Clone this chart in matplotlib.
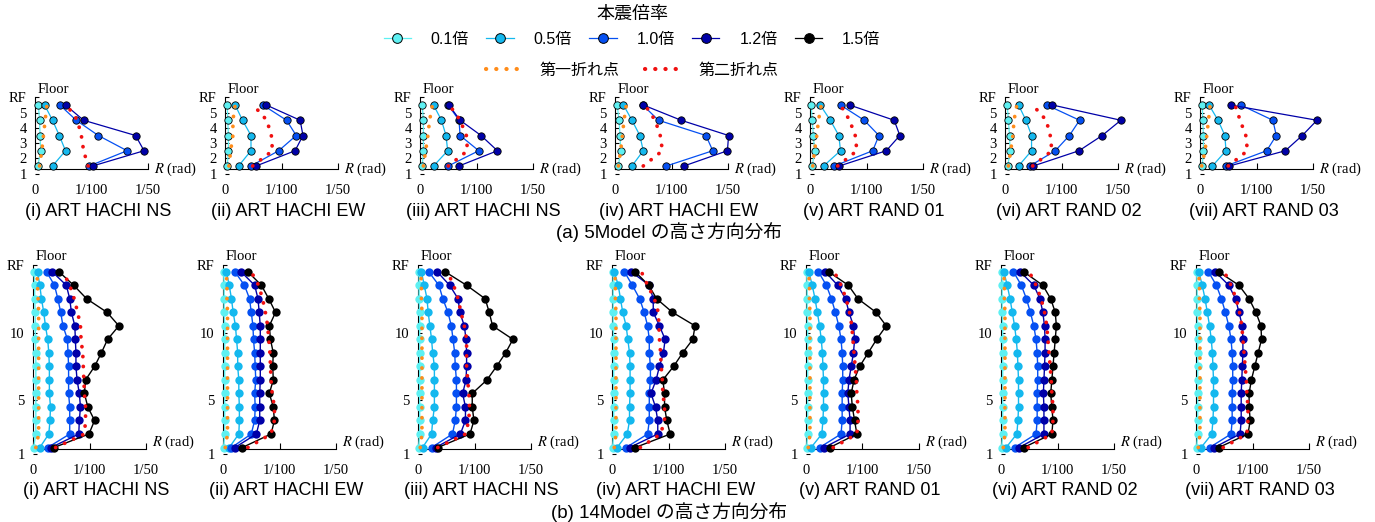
import numpy as np
import matplotlib
matplotlib.use("Agg")
import matplotlib.pyplot as plt
from matplotlib.lines import Line2D
from matplotlib.font_manager import FontProperties

plt.rcParams["mathtext.fontset"] = "stix"

SERIF = ["Liberation Serif", "DejaVu Serif"]
SANS = ["Liberation Sans", "Noto Sans CJK JP", "DejaVu Sans"]

# ---------------------------------------------------------------- labels
scale_labels = ["0.1倍", "0.5倍", "1.0倍", "1.2倍", "1.5倍"]
break_labels = ["第一折れ点", "第二折れ点"]
legend_title = "本震倍率"
wave_titles = ["(i) ART HACHI NS", "(ii) ART HACHI EW", "(iii) ART HACHI NS",
               "(iv) ART HACHI EW", "(v) ART RAND 01", "(vi) ART RAND 02",
               "(vii) ART RAND 03"]
row_titles = ["(a) 5Model の高さ方向分布", "(b) 14Model の高さ方向分布"]
x_ticks = [0.0, 0.01, 0.02]
x_ticklabels = ["0", "1/100", "1/50"]
floor_ticks_5 = [1, 2, 3, 4, 5, 6]
floor_labels_5 = ["1", "2", "3", "4", "5", "RF"]
floor_ticks_14 = [1, 5, 10, 15]
floor_labels_14 = ["1", "5", "10", "RF"]

# story levels (mid-height of each story)
stories_5 = [1.5, 2.5, 3.5, 4.5, 5.5]
stories_14 = [1.5, 2.5, 3.5, 4.5, 5.5, 6.5, 7.5, 8.5, 9.5, 10.5, 11.5, 12.5, 13.5, 14.5]

# ---------------------------------------------------------------- 5Model drift (x 1/1000 rad), bottom story first
m5_x01 = [[0.5, 1.0, 0.9, 0.8, 0.6], [0.4, 0.6, 0.6, 0.5, 0.4], [0.4, 0.6, 0.6, 0.6, 0.4],
          [0.6, 1.0, 0.9, 0.7, 0.4], [0.4, 0.8, 0.6, 0.4, 0.2], [0.5, 0.9, 0.8, 0.6, 0.4],
          [0.4, 0.6, 0.6, 0.5, 0.4]]
m5_x05 = [[3.1, 5.4, 4.3, 3.1, 1.7], [2.4, 4.6, 4.6, 3.1, 1.8], [2.4, 4.9, 4.6, 3.8, 2.4],
          [3.0, 5.0, 4.4, 3.0, 1.5], [2.4, 5.4, 5.1, 3.6, 1.8], [2.4, 4.7, 4.7, 3.7, 2.4],
          [2.2, 4.6, 4.4, 3.2, 1.6]]
m5_x10 = [[9.6, 16.3, 11.2, 7.3, 4.4], [4.6, 9.5, 12.6, 10.9, 6.7], [5.0, 10.4, 7.1, 6.9, 5.0],
          [9.1, 17.3, 16.1, 7.7, 4.9], [4.3, 11.1, 12.2, 9.6, 5.4], [4.4, 8.9, 11.4, 13.2, 7.4],
          [4.6, 11.8, 13.5, 12.9, 7.2]]
m5_x12 = [[10.2, 19.3, 17.8, 8.6, 5.4], [5.5, 12.4, 13.8, 13.3, 7.3], [6.9, 13.7, 10.8, 7.1, 5.1],
          [12.2, 19.9, 20.1, 11.7, 5.0], [5.2, 13.5, 15.9, 14.9, 7.0], [5.0, 13.1, 17.2, 20.5, 8.4],
          [5.2, 15.1, 18.1, 20.7, 5.4]]
m5_bp1 = [[0.8, 1.2, 1.5, 1.8, 2.1], [0.7, 1.0, 1.4, 1.4, 1.8], [0.6, 1.0, 1.4, 1.7, 2.2],
          [0.6, 1.0, 1.3, 1.6, 2.0], [0.5, 0.8, 1.2, 1.5, 2.0], [0.6, 1.0, 1.4, 1.6, 2.1],
          [0.3, 0.9, 1.2, 1.5, 1.8]]
m5_bp2 = [[9.4, 8.6, 8.2, 7.5, 5.6], [4.9, 8.4, 8.2, 7.4, 5.0], [5.0, 8.4, 8.2, 7.1, 5.2],
          [5.0, 8.4, 8.0, 7.1, 5.3], [4.9, 8.3, 8.0, 7.0, 5.4], [4.9, 8.3, 8.0, 7.3, 4.9],
          [5.0, 8.4, 8.1, 7.1, 6.2]]

# ---------------------------------------------------------------- 14Model drift (x 1/1000 rad), bottom story first
m14_x01 = [[0.1, 0.5, 0.5, 0.5, 0.5, 0.5, 0.5, 0.5, 0.4, 0.4, 0.4, 0.3, 0.3, 0.2],
           [0.1, 0.3, 0.3, 0.3, 0.3, 0.3, 0.3, 0.3, 0.3, 0.3, 0.2, 0.2, 0.2, 0.1],
           [0.1, 0.3, 0.3, 0.3, 0.3, 0.3, 0.3, 0.3, 0.3, 0.3, 0.3, 0.2, 0.2, 0.2],
           [0.1, 0.3, 0.3, 0.3, 0.3, 0.3, 0.3, 0.3, 0.3, 0.2, 0.2, 0.2, 0.2, 0.2],
           [0.1, 0.3, 0.3, 0.3, 0.3, 0.3, 0.3, 0.3, 0.3, 0.3, 0.2, 0.2, 0.2, 0.1],
           [0.1, 0.3, 0.3, 0.3, 0.3, 0.3, 0.3, 0.3, 0.3, 0.3, 0.2, 0.2, 0.2, 0.1],
           [0.1, 0.3, 0.3, 0.3, 0.3, 0.3, 0.3, 0.3, 0.3, 0.3, 0.2, 0.2, 0.2, 0.1]]
m14_x05 = [[1.2, 2.8, 3.0, 3.1, 2.9, 2.9, 2.9, 2.8, 2.6, 2.2, 1.9, 1.5, 1.2, 0.8],
           [1.1, 2.8, 2.9, 2.9, 2.8, 2.8, 2.6, 2.6, 2.4, 2.2, 1.8, 1.5, 1.1, 0.6],
           [0.8, 2.4, 2.6, 2.9, 2.9, 2.9, 2.9, 2.6, 2.4, 2.1, 1.8, 1.6, 1.1, 0.6],
           [0.9, 2.7, 3.1, 3.1, 3.2, 3.2, 3.2, 3.1, 2.8, 2.5, 1.9, 1.5, 1.1, 0.4],
           [0.9, 2.8, 3.0, 3.1, 3.1, 3.1, 3.0, 2.9, 2.7, 2.4, 2.0, 1.6, 1.1, 0.5],
           [0.9, 2.8, 3.0, 3.1, 3.1, 3.1, 3.0, 2.9, 2.7, 2.4, 2.0, 1.6, 1.1, 0.5],
           [0.9, 2.8, 3.0, 3.1, 3.1, 3.1, 3.0, 2.9, 2.7, 2.4, 2.0, 1.6, 1.1, 0.5]]
m14_x10 = [[2.6, 6.5, 6.5, 6.5, 6.3, 6.3, 6.3, 6.2, 6.1, 5.3, 4.9, 4.4, 3.8, 2.4],
           [1.5, 5.0, 5.6, 5.7, 5.6, 5.8, 5.7, 5.6, 5.4, 5.3, 5.0, 4.7, 3.8, 2.1],
           [2.4, 6.1, 6.6, 6.8, 6.8, 6.8, 6.6, 6.5, 6.2, 5.9, 5.3, 4.4, 3.7, 1.9],
           [2.5, 6.3, 6.6, 6.6, 6.6, 6.8, 6.8, 6.6, 6.6, 6.3, 5.7, 4.9, 3.6, 2.2],
           [2.4, 6.2, 6.4, 6.4, 6.4, 6.5, 6.5, 6.4, 6.2, 5.8, 5.2, 4.5, 3.6, 2.2],
           [2.4, 6.2, 6.4, 6.4, 6.4, 6.5, 6.5, 6.4, 6.2, 5.8, 5.2, 4.5, 3.6, 2.2],
           [2.4, 6.2, 6.4, 6.4, 6.4, 6.5, 6.5, 6.4, 6.2, 5.8, 5.2, 4.5, 3.6, 2.2]]
m14_x12 = [[3.2, 8.1, 8.2, 8.4, 8.2, 7.8, 7.6, 7.6, 7.5, 7.4, 6.8, 6.5, 5.9, 3.4],
           [2.1, 5.9, 6.5, 6.5, 6.5, 6.6, 6.6, 6.6, 6.6, 6.6, 6.4, 6.2, 5.6, 3.2],
           [3.1, 7.5, 8.4, 8.4, 7.9, 8.5, 8.6, 8.6, 8.5, 8.2, 7.4, 7.1, 5.6, 3.4],
           [3.1, 8.1, 8.1, 7.7, 6.9, 7.8, 8.4, 9.1, 9.4, 8.4, 7.3, 7.3, 6.6, 3.4],
           [3.2, 7.8, 7.8, 7.6, 7.4, 7.6, 8.0, 8.4, 8.6, 8.4, 7.6, 7.0, 5.6, 3.4],
           [3.2, 7.6, 7.6, 7.6, 7.5, 7.6, 7.7, 7.8, 7.8, 7.7, 7.4, 6.9, 5.8, 3.4],
           [3.2, 7.8, 8.0, 8.0, 8.0, 8.1, 8.2, 8.3, 8.3, 8.2, 7.6, 7.0, 5.8, 3.4]]
m14_x15 = [[3.7, 9.9, 10.9, 9.7, 9.1, 9.3, 10.9, 12.1, 13.2, 15.2, 13.1, 9.5, 7.2, 4.6],
           [3.4, 8.5, 9.1, 8.9, 8.2, 8.9, 8.8, 8.9, 8.4, 8.2, 9.3, 8.1, 6.8, 4.4],
           [3.5, 9.2, 9.9, 9.6, 9.6, 12.2, 13.9, 15.5, 16.8, 13.2, 12.6, 11.9, 8.6, 4.8],
           [4.1, 10.3, 9.7, 9.3, 9.3, 9.0, 10.9, 12.5, 14.3, 14.7, 10.7, 7.9, 6.5, 4.1],
           [4.2, 9.0, 8.6, 8.2, 8.0, 8.5, 9.5, 11.0, 12.5, 14.2, 12.4, 9.2, 7.5, 4.0],
           [4.0, 9.0, 9.2, 9.0, 8.8, 9.0, 9.2, 9.4, 9.6, 9.8, 9.6, 8.8, 7.4, 4.0],
           [4.0, 9.2, 9.6, 9.4, 9.4, 9.8, 10.4, 11.0, 11.6, 11.5, 10.6, 9.4, 7.6, 4.0]]
m14_bp1 = [[0.5, 1.0, 1.0, 1.0, 1.0, 1.0, 1.0, 1.0, 1.0, 1.0, 1.0, 0.9, 0.8, 0.7],
           [0.4, 0.8, 0.8, 0.8, 0.8, 0.8, 0.8, 0.8, 0.8, 0.8, 0.8, 0.7, 0.7, 0.6],
           [0.4, 0.7, 0.7, 0.7, 0.7, 0.7, 0.7, 0.7, 0.7, 0.7, 0.7, 0.6, 0.6, 0.5],
           [0.4, 0.7, 0.7, 0.7, 0.7, 0.7, 0.7, 0.7, 0.7, 0.7, 0.7, 0.6, 0.6, 0.5],
           [0.4, 0.7, 0.7, 0.7, 0.7, 0.7, 0.7, 0.7, 0.7, 0.7, 0.7, 0.6, 0.6, 0.5],
           [0.4, 0.7, 0.7, 0.7, 0.7, 0.7, 0.7, 0.7, 0.7, 0.7, 0.7, 0.6, 0.6, 0.5],
           [0.4, 0.7, 0.7, 0.7, 0.7, 0.7, 0.7, 0.7, 0.7, 0.7, 0.7, 0.6, 0.6, 0.5]]
m14_bp2 = [[4.0, 9.1, 9.3, 9.3, 9.1, 9.0, 8.9, 8.8, 8.5, 8.4, 7.9, 7.3, 6.5, 5.3],
           [4.4, 8.5, 9.1, 9.1, 8.7, 8.5, 8.4, 8.3, 8.1, 7.9, 7.5, 7.0, 6.3, 5.0],
           [3.5, 8.4, 9.0, 9.1, 9.0, 8.8, 8.6, 8.6, 8.6, 8.2, 7.6, 7.1, 6.3, 5.2],
           [5.0, 8.6, 9.3, 9.3, 9.0, 8.9, 8.7, 8.6, 8.4, 8.3, 8.2, 7.5, 6.3, 5.2],
           [4.8, 9.0, 9.2, 9.2, 9.0, 8.9, 8.7, 8.5, 8.3, 8.1, 7.7, 7.1, 6.2, 5.0],
           [4.8, 9.0, 9.2, 9.2, 9.0, 8.9, 8.7, 8.5, 8.3, 8.1, 7.7, 7.1, 6.2, 5.0],
           [4.8, 9.0, 9.2, 9.2, 9.0, 8.9, 8.7, 8.5, 8.3, 8.1, 7.7, 7.1, 6.2, 5.0]]

# ---------------------------------------------------------------- styling
scale_colors = ["#5EF0F2", "#14B8EE", "#0550F2", "#0000A8", "#000000"]
break_colors = ["#FF8C1A", "#F01010"]

W, H = 1375, 522
fig = plt.figure(figsize=(W / 100, H / 100), dpi=100)

top_left_px = [35, 225, 420, 615, 810, 1005, 1200]
bot_left_px = [33, 223, 418, 612, 806, 1001, 1196]
AX_W = 113


def make_axes(left_px, top_px, bottom_px):
    return fig.add_axes([left_px / W, 1 - bottom_px / H, AX_W / W, (bottom_px - top_px) / H])


def dotted(ax, x, y, color):
    ax.plot(x, y, color=color, lw=2.7, linestyle=(0, (0.05, 2.6)),
            dash_capstyle="round", clip_on=False, zorder=6)


def style_axes(ax, y_top, base, yticks, ylabels, rad_offset, title):
    ax.set_xlim(0, 0.02)
    ax.set_ylim(1, y_top)
    for s in ("top", "right"):
        ax.spines[s].set_visible(False)
    ax.spines["bottom"].set_position(("data", base))
    ax.spines["left"].set_bounds(base, y_top)
    for s in ("left", "bottom"):
        ax.spines[s].set_linewidth(0.8)
    ax.set_xticks(x_ticks)
    ax.set_xticklabels(x_ticklabels, fontfamily=SERIF, fontsize=10.5)
    ax.set_yticks(yticks)
    ax.set_yticklabels(ylabels, fontfamily=SERIF, fontsize=10.5)
    ax.tick_params(axis="x", direction="in", length=4, width=0.8, pad=10.5)
    ax.tick_params(axis="y", direction="in", length=3, width=0.8, pad=6)
    ax.patch.set_visible(False)
    ax.annotate("Floor", xy=(0, y_top), xycoords="data", xytext=(2, 3.5),
                textcoords="offset points", ha="left", va="baseline",
                fontfamily=SERIF, fontsize=10.5)
    ax.annotate("$R$ (rad)", xy=(0.02, base), xycoords="data", xytext=(4, rad_offset),
                textcoords="offset points", ha="left", va="center",
                fontfamily=SERIF, fontsize=10.5)
    # panel caption under the tick labels, centred slightly right of the axis
    ax.annotate(title, xy=(0.01, base), xycoords="data", xytext=(5, -24),
                textcoords="offset points", ha="center", va="top",
                fontfamily=SANS, fontsize=13)


# ---- 5-story model row
for i in range(7):
    ax = make_axes(top_left_px[i], 97.4, 173.6)
    series = [m5_x01[i], m5_x05[i], m5_x10[i], m5_x12[i]]
    for k, vals in enumerate(series):
        ax.plot(np.array(vals) / 1000, stories_5, color=scale_colors[k], lw=0.9,
                marker="o", ms=5.3, mfc=scale_colors[k], mec="black", mew=0.6,
                clip_on=False, zorder=3 + k * 0.1)
    dotted(ax, np.array(m5_bp1[i]) / 1000, stories_5, break_colors[0])
    dotted(ax, np.array(m5_bp2[i]) / 1000, stories_5, break_colors[1])
    style_axes(ax, 6, 1.28, floor_ticks_5, floor_labels_5, 0, wave_titles[i])

# ---- 14-story model row
for i in range(7):
    ax = make_axes(bot_left_px[i], 265, 454.3)
    series = [m14_x01[i], m14_x05[i], m14_x10[i], m14_x12[i], m14_x15[i]]
    for k, vals in enumerate(series):
        ax.plot(np.array(vals) / 1000, stories_14, color=scale_colors[k], lw=1.0,
                marker="o", ms=6.0, mfc=scale_colors[k], mec="none",
                clip_on=False, zorder=3 + k * 0.1)
    dotted(ax, np.array(m14_bp1[i]) / 1000, stories_14, break_colors[0])
    dotted(ax, np.array(m14_bp2[i]) / 1000, stories_14, break_colors[1])
    style_axes(ax, 15, 1.39, floor_ticks_14, floor_labels_14, 4.5, wave_titles[i])

# ---- row captions
fig.text(669 / W, 1 - 232 / H, row_titles[0], ha="center", va="center", fontfamily=SANS, fontsize=13.5)
fig.text(669 / W, 1 - 512 / H, row_titles[1], ha="center", va="center", fontfamily=SANS, fontsize=13.5)

# ---- legends
scale_handles = [Line2D([], [], color=c, lw=0.9, marker="o", ms=7, mfc=c, mec="black", mew=0.7)
                 for c in scale_colors]
leg1 = fig.legend(scale_handles, scale_labels, loc="upper center",
                  bbox_to_anchor=(632 / W, 1 - 6 / H), ncol=5, frameon=False,
                  title=legend_title, title_fontproperties=FontProperties(family=SANS, size=13),
                  prop=FontProperties(family=SANS, size=11.5), handlelength=1.7,
                  handletextpad=1.25, columnspacing=1.1, borderpad=0, borderaxespad=0,
                  labelspacing=0.55)
break_handles = [Line2D([], [], color=c, lw=3.0, linestyle=(0, (0.05, 2.4)), dash_capstyle="round")
                 for c in break_colors]
leg2 = fig.legend(break_handles, break_labels, loc="upper center",
                  bbox_to_anchor=(632 / W, 1 - 63 / H), ncol=2, frameon=False,
                  prop=FontProperties(family=SANS, size=11.5), handlelength=2.1,
                  handletextpad=1.25, columnspacing=1.6, borderpad=0, borderaxespad=0)

fig.savefig("out.png", dpi=100)
